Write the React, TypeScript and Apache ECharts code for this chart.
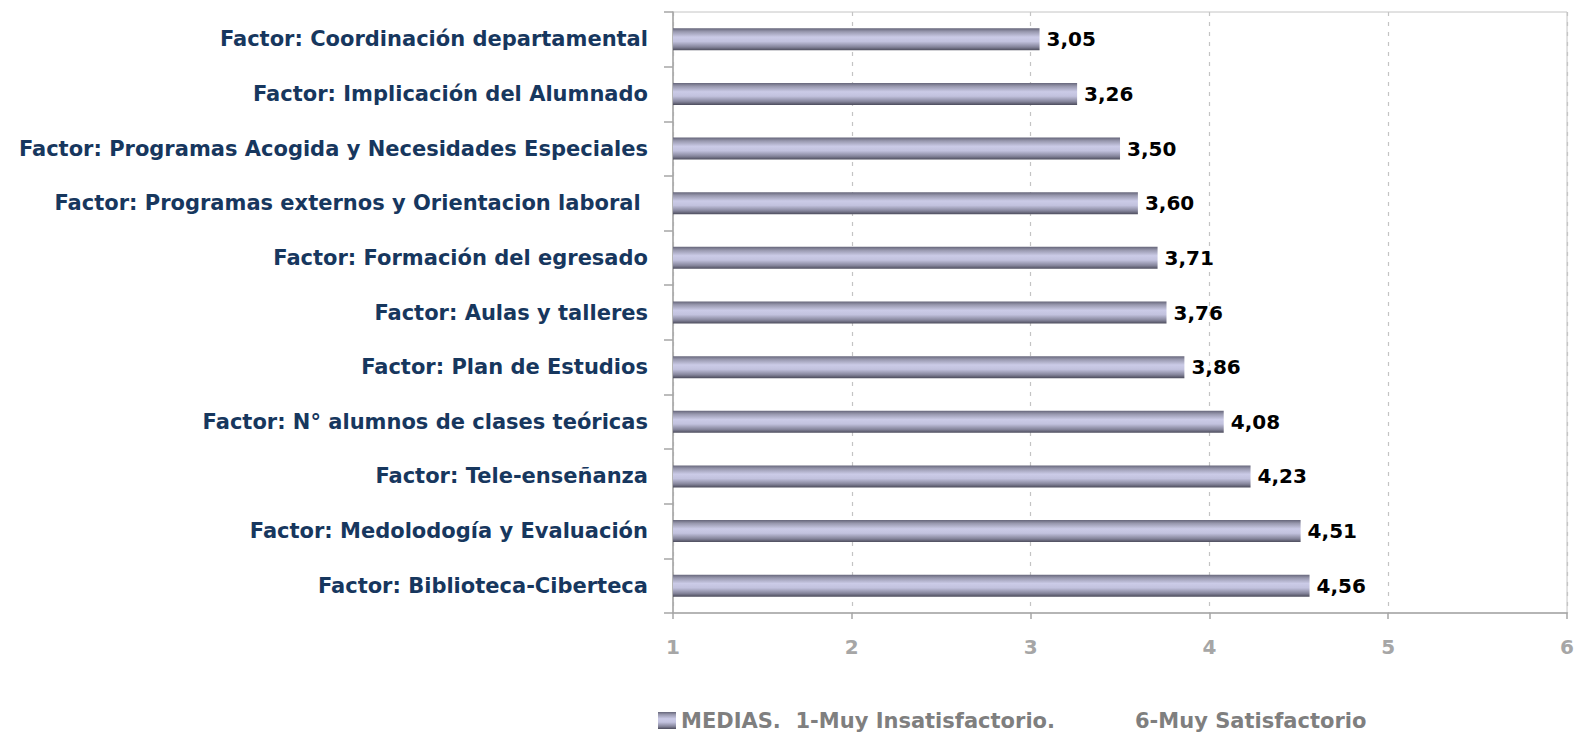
import React, { useEffect, useRef } from "react";
import * as echarts from "echarts";

const categories = [
  "Factor: Coordinación departamental",
  "Factor: Implicación del Alumnado",
  "Factor: Programas Acogida y Necesidades Especiales",
  "Factor: Programas externos y Orientacion laboral ",
  "Factor: Formación del egresado",
  "Factor: Aulas y talleres",
  "Factor: Plan de Estudios",
  "Factor: N° alumnos de clases teóricas",
  "Factor: Tele-enseñanza",
  "Factor: Medolodogía y Evaluación",
  "Factor: Biblioteca-Ciberteca",
];
const values = [3.05, 3.26, 3.5, 3.6, 3.71, 3.76, 3.86, 4.08, 4.23, 4.51, 4.56];
const seriesName = "MEDIAS.  1-Muy Insatisfactorio.";
const legendSuffix = "6-Muy Satisfactorio";

const FONT = "DejaVu Sans";

export default function App() {
  const ref = useRef<HTMLDivElement>(null);
  useEffect(() => {
    document.body.style.margin = "0";
    const chart = echarts.init(ref.current!, null, { renderer: "svg" });
    const grad = new echarts.graphic.LinearGradient(0, 0, 0, 1, [
      { offset: 0, color: "#66667a" },
      { offset: 0.15, color: "#9898ae" },
      { offset: 0.4, color: "#cbcbe7" },
      { offset: 0.6, color: "#c2c2de" },
      { offset: 0.85, color: "#84849a" },
      { offset: 1, color: "#4c4c5c" },
    ]);
    chart.setOption({
      animation: false,
      grid: {
        left: 673,
        right: 8,
        top: 12,
        bottom: 120,
        show: true,
        borderColor: "#c4c4c4",
        borderWidth: 1,
      },
      legend: {
        left: 653,
        top: 705,
        icon: "rect",
        itemWidth: 18,
        itemHeight: 17,
        itemGap: 10,
        data: [seriesName],
        formatter: (n: string) => `{a|${n}}{b|${legendSuffix}}`,
        textStyle: {
          rich: {
            a: { color: "#7f7f7f", fontFamily: FONT, fontWeight: "bold", fontSize: 21 },
            b: {
              color: "#7f7f7f",
              fontFamily: FONT,
              fontWeight: "bold",
              fontSize: 21,
              padding: [0, 0, 0, 80],
            },
          },
        },
      },
      xAxis: {
        type: "value",
        min: 1,
        max: 6,
        interval: 1,
        axisLine: { show: true, lineStyle: { color: "#a6a6a6", width: 1.5 } },
        axisTick: { show: true, length: 6, lineStyle: { color: "#a6a6a6", width: 1.5 } },
        axisLabel: {
          color: "#a6a6a6",
          fontFamily: FONT,
          fontWeight: "bold",
          fontSize: 20,
          margin: 24,
        },
        splitLine: { show: true, lineStyle: { color: "#c4c4c4", type: [4, 6], width: 1.2 } },
      },
      yAxis: {
        type: "category",
        inverse: true,
        data: categories,
        axisLine: { show: true, lineStyle: { color: "#a6a6a6", width: 1.5 } },
        axisTick: { show: true, length: 9, lineStyle: { color: "#a6a6a6", width: 1.5 } },
        axisLabel: {
          color: "#17375e",
          fontFamily: FONT,
          fontWeight: "bold",
          fontSize: 21,
          margin: 25,
        },
      },
      series: [
        {
          name: seriesName,
          type: "bar",
          data: values,
          barWidth: 22,
          itemStyle: { color: grad },
          label: {
            show: true,
            position: "right",
            distance: 7,
            color: "#000",
            fontFamily: FONT,
            fontWeight: "bold",
            fontSize: 20,
            formatter: (p: any) => p.value.toFixed(2).replace(".", ","),
          },
        },
      ],
    });
    return () => chart.dispose();
  }, []);
  return (
    <div
      ref={ref}
      style={{ position: "absolute", left: 0, top: 0, width: 1577, height: 733 }}
    />
  );
}
